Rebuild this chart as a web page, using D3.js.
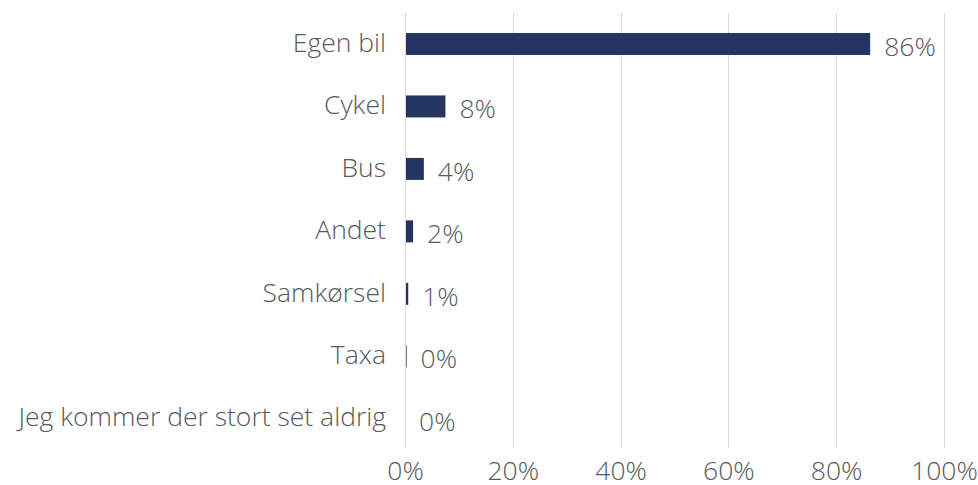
<!DOCTYPE html>
<html lang="da">
<head>
  <meta charset="UTF-8">
  <title>Transportmiddel</title>
  <style>
    body { margin: 0; background: #fff; }
    svg text { font-family: "Open Sans", "Noto Sans", sans-serif; fill: #595959; font-size: 26.5px; font-weight: 300; }
    .grid line { stroke: #d9d9d9; stroke-width: 1; }
    .axis path, .axis line { display: none; }
  </style>
</head>
<body>
  <div id="chart"></div>
  <script src="https://d3js.org/d3.v7.min.js"></script>
  <script>
    var categories = ['Egen bil', 'Cykel', 'Bus', 'Andet', 'Samkørsel', 'Taxa', 'Jeg kommer der stort set aldrig']
    var values = [86.3, 7.5, 3.5, 1.5, 0.6, 0.3, 0]
    var valueLabels = ['86%', '8%', '4%', '2%', '1%', '0%', '0%']
    var ticks = [0, 20, 40, 60, 80, 100]

    var width = 978
    var height = 485
    var svg = d3.select('#chart').append('svg')
      .attr('width', width)
      .attr('height', height)

    var xScale = d3.scaleLinear().domain([0, 100]).range([405, 944])
    var yScale = d3.scaleBand()
      .domain(categories)
      .range([12.75, 450])
      .paddingInner(0.648)
      .paddingOuter(0.324)

    // gridlines
    svg.append('g').attr('class', 'grid')
      .selectAll('line')
      .data(ticks)
      .enter()
      .append('line')
      .attr('x1', function (d) { return Math.round(xScale(d)) + 0.5 })
      .attr('x2', function (d) { return Math.round(xScale(d)) + 0.5 })
      .attr('y1', 13)
      .attr('y2', 448)

    // bars
    svg.selectAll('.bar')
      .data(values)
      .enter()
      .append('rect')
      .attr('class', 'bar')
      .attr('x', xScale(0) + 1)
      .attr('y', function (d, i) { return yScale(categories[i]) })
      .attr('width', function (d) { return Math.max(0, xScale(d) - xScale(0) - 1) })
      .attr('height', yScale.bandwidth())
      .attr('fill', '#253561')

    // value labels
    svg.selectAll('.val')
      .data(values)
      .enter()
      .append('text')
      .attr('class', 'val')
      .attr('x', function (d) { return xScale(d) + 14 })
      .attr('y', function (d, i) { return yScale(categories[i]) + yScale.bandwidth() / 2 })
      .attr('dy', '0.45em')
      .text(function (d, i) { return valueLabels[i] })

    // category axis
    var yAxis = d3.axisLeft(yScale).tickSize(0).tickPadding(19)
    svg.append('g').attr('class', 'axis')
      .attr('transform', 'translate(' + xScale(0) + ',0)')
      .call(yAxis)
      .attr('font-size', null)
      .attr('font-family', null)
      .selectAll('text')
      .attr('dy', '0.29em')
      .attr('fill', null)

    // percent axis
    var xAxis = d3.axisBottom(xScale).tickValues(ticks).tickSize(0).tickPadding(0)
      .tickFormat(function (d) { return d + '%' })
    svg.append('g').attr('class', 'axis')
      .attr('transform', 'translate(0,461)')
      .call(xAxis)
      .attr('font-size', null)
      .attr('font-family', null)
      .selectAll('text')
      .attr('fill', null)
  </script>
</body>
</html>
